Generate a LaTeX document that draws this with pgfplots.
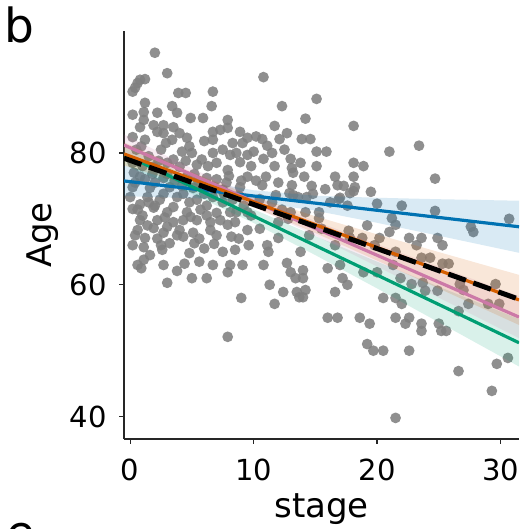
\documentclass[border=0pt]{standalone}
\usepackage{pgfplots}
\pgfplotsset{compat=1.18}
\usepackage{fontspec}
\setmainfont{DejaVu Sans}
\definecolor{cbblue}{HTML}{0072B2}
\definecolor{cbgreen}{HTML}{009E73}
\definecolor{cbver}{HTML}{D55E00}
\definecolor{cbpink}{HTML}{CC79A7}
\definecolor{spine}{HTML}{262626}
\begin{document}
\begin{tikzpicture}
\path[use as bounding box] (0,0) rectangle (523pt,529pt);
\node[anchor=base west, inner sep=0pt, font=\fontsize{47}{56}\selectfont] at (4pt,486pt) {b};
\node[anchor=base west, inner sep=0pt, font=\fontsize{47}{56}\selectfont] at (6pt,-20pt) {e};
\begin{axis}[
  at={(124pt,90pt)}, anchor=south west,
  scale only axis, width=395pt, height=408pt,
  xmin=-0.5, xmax=31.5, ymin=36.6, ymax=98.5,
  axis x line*=bottom, axis y line*=left,
  axis line style={-, spine, line width=1.2pt},
  xtick={0,10,20,30}, ytick={40,60,80},
  tick align=outside, major tick length=5pt,
  tick style={spine, line width=1.2pt},
  /pgf/number format/assume math mode=true,
  ticklabel style={font=\fontsize{29}{34}\selectfont},
  xticklabel style={inner sep=0pt, anchor=north, yshift=-15pt},
  yticklabel style={inner sep=0pt, anchor=east, xshift=-12pt},
  label style={font=\fontsize{34}{40}\selectfont},
  xlabel={stage}, ylabel={Age},
  xlabel style={at={(axis description cs:0.5,0)}, anchor=base, inner sep=0pt, yshift=-78pt},
  ylabel style={at={(axis description cs:0,0.5)}, anchor=base, inner sep=0pt, yshift=72pt},
  clip marker paths=true,
]
% scatter
\addplot[only marks, mark=*, mark size=5.4pt, mark options={draw opacity=0, fill=black!50, fill opacity=0.88}] table {
2.0 95.2
3.0 92.1
0.6 90.6
0.8 91.1
1.2 91.2
0.2 89.3
0.4 89.9
3.9 89.1
4.5 89.1
6.7 89.3
1.2 87.6
3.4 87.1
6.6 87.1
2.2 86.1
3.8 86.1
0.2 85.8
1.1 86.2
1.1 85.0
4.9 85.3
5.9 85.3
7.9 85.0
0.8 83.9
1.9 84.2
2.7 84.2
3.5 83.9
7.9 83.8
6.7 83.2
7.3 83.5
8.9 83.2
0.2 82.4
2.2 83.2
2.7 83.0
4.0 83.0
4.6 82.3
3.4 82.0
1.2 82.0
9.5 82.3
6.7 82.0
8.3 81.5
9.1 81.5
4.2 80.2
5.0 80.0
6.7 80.0
8.1 79.7
9.5 79.7
0.2 78.5
1.9 77.9
3.0 78.5
4.0 77.9
5.4 78.2
7.9 77.4
8.9 78.6
0.8 76.4
2.7 76.2
4.6 76.4
6.2 76.2
9.5 76.4
0.2 74.8
1.6 74.7
3.2 74.8
5.1 74.7
7.5 74.4
8.9 74.8
0.0 73.3
1.4 73.3
2.4 72.9
3.8 73.3
5.4 72.9
6.7 73.3
8.3 72.9
0.6 71.4
1.9 71.7
3.0 71.0
4.6 71.0
5.7 71.4
7.0 70.9
8.1 71.0
9.5 71.0
0.8 69.8
2.2 69.8
3.5 69.5
5.4 69.8
7.3 69.8
0.6 68.3
1.9 68.6
2.7 67.9
4.0 68.3
5.1 67.9
6.5 68.3
7.9 69.1
9.5 68.3
0.2 66.0
1.2 67.1
3.2 66.3
4.3 67.3
1.1 65.7
8.5 65.3
9.6 66.0
2.6 65.3
0.6 63.0
1.1 63.8
2.7 63.0
3.8 62.1
3.0 60.3
5.0 61.0
6.2 61.0
6.7 63.0
7.9 61.9
8.1 63.0
9.1 63.0
9.0 58.0
7.9 52.1
10.8 91.5
12.3 87.1
15.1 88.2
14.2 85.2
11.7 84.1
12.7 83.0
18.1 84.1
10.7 82.1
12.1 82.1
13.9 82.1
14.6 82.1
11.1 81.1
10.0 80.2
15.1 80.2
15.9 80.2
10.8 79.1
13.0 79.1
11.7 78.0
13.1 77.7
15.1 78.0
18.1 78.5
18.9 78.0
11.0 76.4
14.1 76.4
16.6 76.4
18.1 76.4
21.0 80.2
23.4 81.1
24.7 76.1
13.2 77.0
14.7 75.0
12.9 73.9
13.6 73.3
14.3 73.3
13.0 71.0
14.2 71.0
15.3 71.0
15.3 70.1
17.3 75.0
18.1 74.2
19.5 74.1
16.9 73.0
17.6 72.0
20.0 72.3
22.0 72.0
24.7 71.2
27.6 68.8
27.8 68.0
30.7 70.0
21.2 70.1
21.5 69.1
21.0 68.0
17.7 68.2
20.2 67.1
22.6 67.1
23.6 67.1
24.9 67.1
25.3 66.0
23.2 66.0
21.5 65.0
16.6 66.0
18.8 67.1
11.1 66.0
11.2 65.0
13.8 65.0
12.0 67.1
10.7 75.1
13.1 75.1
16.8 75.1
18.2 74.8
17.8 73.9
13.2 73.6
17.0 73.2
12.3 71.4
17.8 67.1
10.8 63.0
12.7 63.3
13.0 61.9
14.0 62.2
13.4 61.0
14.0 61.0
17.0 63.0
17.2 61.0
17.6 60.0
11.3 60.0
12.4 58.9
13.5 58.9
14.2 59.2
16.6 58.9
18.9 61.9
20.0 61.9
23.6 64.1
24.3 64.1
25.3 63.2
25.8 63.2
21.3 63.0
21.9 61.0
22.8 60.1
23.7 60.3
23.9 59.1
24.9 59.1
29.6 60.1
26.7 60.1
27.0 59.2
11.7 57.1
13.7 58.1
14.0 58.1
16.0 55.0
16.8 55.0
18.6 55.0
19.4 54.1
20.5 58.0
21.5 58.0
22.0 57.1
21.5 55.0
22.3 54.1
22.6 55.0
23.6 54.1
23.6 53.0
25.0 54.1
25.2 53.0
25.6 53.0
19.2 51.0
19.7 50.0
20.5 50.0
22.6 50.0
26.6 46.9
29.7 48.0
30.6 48.9
29.3 43.9
21.5 39.8
26.6 56.0
27.4 57.1
29.0 57.1
29.9 57.1
0.5 80.5
1.5 79.5
2.5 80.5
3.5 79.0
5.8 79.0
7.0 78.5
0.3 77.0
1.2 76.0
2.0 75.5
3.0 76.8
4.2 75.0
5.5 75.8
6.8 74.8
7.8 75.5
0.8 72.2
2.0 72.0
3.5 71.8
4.8 72.5
6.2 72.0
7.5 72.5
8.8 73.5
1.0 70.5
2.8 70.2
4.3 69.8
6.2 70.5
8.5 69.5
0.4 67.5
2.2 67.0
3.8 67.5
5.6 67.0
7.0 67.5
8.8 67.0
1.6 64.5
4.8 64.8
6.0 65.5
7.5 65.0
9.8 78.0
10.2 75.8
10.5 73.0
9.8 70.5
11.5 72.5
12.0 69.5
10.5 68.5
0.9 81.0
2.9 81.5
4.8 81.0
6.0 81.8
7.5 80.5
8.6 80.0
1.0 78.0
2.3 78.8
4.5 78.8
6.3 78.0
8.0 76.5
0.4 75.5
1.8 76.8
3.6 75.8
5.2 76.8
7.0 76.0
9.0 75.8
0.2 71.5
1.5 72.5
2.7 73.8
4.3 73.8
6.0 73.8
7.6 73.8
9.2 72.0
1.4 69.0
3.0 68.8
4.9 70.3
6.5 69.5
8.6 71.0
2.5 66.0
5.2 66.3
6.8 66.2
8.2 67.3
0.9 62.5
4.4 63.2
5.6 63.5
10.2 82.5
11.5 80.0
12.5 80.5
13.8 78.5
12.0 75.5
14.8 73.8
15.8 74.5
16.2 72.5
11.8 73.6
12.8 70.0
15.5 68.5
14.5 67.5
16.0 62.5
19.2 69.0
19.8 66.0
};
% confidence bands
\addplot[draw=none, fill=cbblue, fill opacity=0.15] coordinates {
(-0.5,78.05) (5,75.98) (10,74.34) (15,73.51) (20,73.20) (25,72.98) (31.5,72.75)
(31.5,64.85) (25,67.44) (20,69.40) (15,71.25) (10,72.60) (5,73.14) (-0.5,73.45)} -- cycle;
\addplot[draw=none, fill=cbgreen, fill opacity=0.15] coordinates {
(-0.5,81.4) (5,75.98) (10,71.45) (15,67.38) (20,63.51) (25,59.71) (31.5,54.8)
(31.5,47.6) (25,54.31) (20,59.45) (15,64.50) (10,69.37) (5,73.78) (-0.5,78.2)} -- cycle;
\addplot[draw=none, fill=cbpink, fill opacity=0.15] coordinates {
(-0.5,82.8) (5,77.66) (10,73.39) (15,69.66) (20,66.18) (25,62.75) (31.5,58.3)
(31.5,51.9) (25,58.05) (20,62.78) (15,67.46) (10,71.89) (5,75.76) (-0.5,79.6)} -- cycle;
\addplot[draw=none, fill=cbver, fill opacity=0.15] coordinates {
(-0.5,81.61) (5,77.08) (10,73.40) (15,70.39) (20,67.65) (25,64.96) (31.5,61.50)
(31.5,53.90) (25,59.44) (20,63.67) (15,67.85) (10,71.76) (5,75.00) (-0.5,78.09)} -- cycle;
% regression lines
\addplot[cbblue, line width=3.2pt] coordinates {(-0.5,75.75) (31.5,68.8)};
\addplot[cbgreen, line width=3.2pt] coordinates {(-0.5,79.8) (31.5,51.2)};
\addplot[cbpink, line width=3.2pt] coordinates {(-0.5,81.2) (31.5,55.1)};
\addplot[cbver, line width=3.2pt] coordinates {(-0.5,79.85) (31.5,57.7)};
\addplot[black, line width=5pt, dash pattern=on 18.5pt off 8pt] coordinates {(-0.5,79.2) (31.5,57.8)};
\end{axis}
\end{tikzpicture}
\end{document}
